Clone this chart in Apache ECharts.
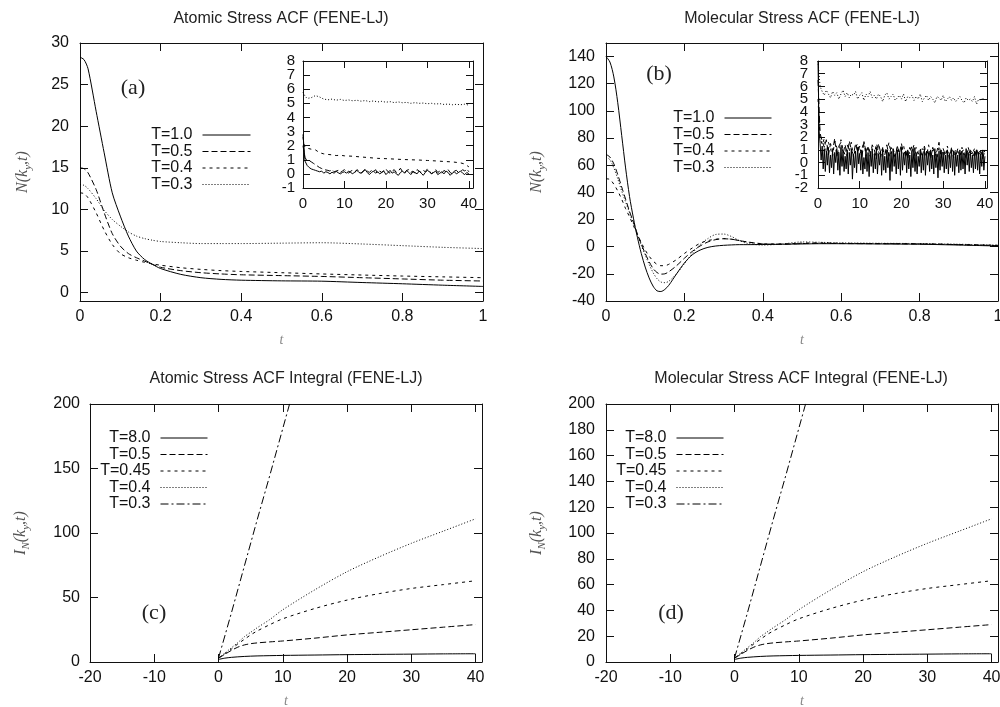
<!DOCTYPE html>
<html><head><meta charset="utf-8">
<script src="https://cdn.jsdelivr.net/npm/echarts@6/dist/echarts.min.js"></script>
<style>html,body{margin:0;padding:0;background:#fff}#c{width:1000px;height:707px}</style>
</head><body><div id="c"></div>
<script>
// ================= DATA =================
// Panel (a): Atomic stress ACF
const tA = [0,0.01,0.02,0.04,0.06,0.08,0.1,0.12,0.14,0.16,0.18,0.2,0.25,0.3,0.35,0.4,0.5,0.6,0.7,0.8,0.9,1.0];
const aT10 = [28.3,28.0,26.9,21.8,16.8,12.0,9.2,6.8,5.0,4.0,3.4,2.9,2.2,1.8,1.6,1.5,1.42,1.38,1.22,1.07,0.9,0.75];
const aT05 = [15.0,14.9,14.4,12.4,9.6,7.1,5.6,4.7,4.2,3.8,3.4,3.05,2.65,2.4,2.25,2.15,2.05,1.95,1.8,1.65,1.5,1.4];
const aT04 = [12.0,11.9,11.4,9.6,7.5,5.8,4.7,4.2,3.9,3.65,3.45,3.3,3.0,2.8,2.65,2.55,2.4,2.25,2.12,2.0,1.9,1.8];
const aT03 = [13.0,12.9,12.5,11.3,9.9,8.8,8.0,7.3,6.8,6.5,6.3,6.15,6.0,5.9,5.9,5.9,5.95,6.0,5.85,5.65,5.45,5.3];

// Inset of (a)
const tIA03 = [0,0.5,1,2,3,4,5,6,7,8,9,10,11,12,13,14,15,16,17,18,19,20,21,22,23,24,25,26,27,28,29,30,31,32,33,34,35,36,37,38,39,40];
const iaT03 = [5.8,5.5,5.35,5.4,5.55,5.45,5.3,5.25,5.3,5.22,5.28,5.2,5.24,5.18,5.22,5.15,5.2,5.12,5.17,5.1,5.14,5.08,5.12,5.05,5.1,5.04,5.07,5.0,5.05,5.0,5.02,4.97,5.0,4.95,4.98,4.92,4.95,4.9,4.93,4.9,4.94,4.87];
const tIA04 = [0,0.3,0.6,1,2,3,4,5,6,7,8,9,10,12,14,16,18,20,22,24,26,28,30,32,34,36,38,39,40];
const iaT04 = [2.6,2.0,1.85,1.8,1.75,1.7,1.5,1.42,1.38,1.35,1.3,1.32,1.28,1.25,1.2,1.15,1.1,1.08,1.05,1.02,1.0,0.98,0.95,0.92,0.88,0.85,0.78,0.7,0.5];
// sampled every 0.5 from 0 to 40
const iaT10 = [2.8,0.9,0.6,0.45,0.35,0.3,0.25,0.2,0.15,0.2,0.05,0.15,0.1,0.0,0.12,0.05,0.18,0.08,0.0,0.1,
  0.15,0.05,0.2,0.1,0.0,0.15,0.25,0.1,0.05,0.2,0.3,0.1,-0.05,0.1,0.2,0.05,0.15,0.0,0.1,0.2,
  -0.05,0.1,0.25,0.05,0.15,0.0,-0.1,0.1,0.2,0.05,0.25,0.1,-0.05,0.15,0.1,0.0,0.2,0.05,-0.1,0.1,
  0.25,0.15,0.0,0.1,0.2,-0.05,0.05,0.15,0.0,0.2,0.1,-0.1,0.05,0.15,0.0,0.1,0.2,0.05,-0.05,0.1,0.0];
const iaT05 = [2.0,1.1,1.0,0.95,0.85,0.75,0.65,0.55,0.45,0.38,0.32,0.28,0.25,0.2,0.3,0.15,0.2,0.25,0.1,0.2,
  0.3,0.15,0.05,0.2,0.25,0.1,0.3,0.2,0.05,0.15,0.35,0.2,0.1,0.25,0.15,0.3,0.05,0.2,0.1,0.25,
  0.35,0.15,0.05,0.2,0.3,0.1,0.2,0.4,0.15,0.05,0.25,0.3,0.1,0.2,0.05,0.3,0.2,0.1,0.25,0.15,
  0.35,0.2,0.0,0.15,0.3,0.1,0.2,0.05,0.25,0.15,0.3,0.1,0.0,0.2,0.25,0.1,0.15,0.3,0.2,0.35,0.15];

// Panel (b): Molecular stress ACF
const tB = [0,0.01,0.02,0.03,0.04,0.05,0.06,0.07,0.08,0.09,0.1,0.11,0.12,0.13,0.14,0.15,0.16,0.18,0.2,0.22,0.24,0.26,0.28,0.3,0.32,0.34,0.36,0.4,0.45,0.5,0.55,0.6,0.7,0.8,0.9,1.0];
const bT10 = [140,136,125,106,82,58,37,21,7,-5,-15,-23,-29,-32.5,-33,-31.5,-28.5,-20,-12,-6,-2.5,-0.5,0.5,1,1.3,1.5,1.5,1.6,1.8,2,2.2,2.2,2,1.8,1.2,0.5];
const bT05 = [68,66,61,53,44,35,26,18,9.5,2,-5,-11,-16,-19,-20.2,-20,-18.5,-14,-8.5,-3.5,0.5,3.5,5.2,5.8,5.5,4.5,3.5,2,1.8,2.3,2.5,2.3,2.2,2,1.5,0.8];
const bT04 = [50,49.5,46,41,35,28,22,15.5,9,3,-2.5,-7,-10.5,-13,-14,-14,-13,-9.5,-5,-1,2.5,4.5,5.5,6,5.5,4.5,3.5,2.2,2,2.6,2.8,2.5,2.3,2.1,1.6,1];
const bT03 = [66,64,58,50,41,33,25,17,9,1,-6,-13,-19,-23.5,-26,-26.5,-25.5,-20,-12.5,-5,1.5,6,9,9.3,7.5,4.5,2.5,1.2,2,3.5,3.2,2.8,2.5,2.3,1.8,1.2];

// Inset of (b), sampled uniformly from 0 to 40
const ibT10 = [
8.0,2.6,1.5,0.2,1.3,-0.5,1.1,-0.7,0.9,-0.2,
1.2,-0.8,0.6,-0.4,1.0,-0.9,0.8,0.0,1.1,-0.6,
0.7,-1.0,1.2,-0.3,0.9,-0.7,0.5,-0.5,1.0,-0.9,
0.8,-0.2,1.1,-1.3,0.6,-0.4,0.9,-0.8,1.2,-0.1,
0.7,-0.6,1.0,-0.9,0.4,-0.5,1.1,-0.7,0.8,-1.1,
0.9,-0.3,1.0,-0.8,0.6,-0.5,1.2,-0.9,0.7,-0.2,
0.9,-1.0,1.1,-0.6,0.5,-0.8,1.0,-0.4,0.8,-1.4,
0.9,-0.7,1.1,-0.3,0.6,-0.9,1.0,-0.5,0.8,-1.0,
1.2,-0.6,0.7,-0.2,0.9,-0.8,1.0,-0.5,0.6,-1.1,
0.9,-0.4,1.1,-0.7,0.8,-0.9,0.5,-0.3,1.0,-0.8,
0.7,-0.6,1.1,-1.0,0.9,-0.2,0.8,-0.7,1.0,-0.5,
0.6,-0.9,1.1,-0.4,0.7,-1.2,0.9,-0.6,1.0,-0.3,
0.8,-0.8,0.6,-0.5,1.0,-0.9,0.7,-0.4,1.1,-0.7,
0.9,-1.0,0.8,-0.3,0.6,-0.8,1.0,-0.6,0.9,-0.5,
0.7,-0.9,1.1,-0.2,0.8,-0.7,0.9,-0.4,0.6,-0.8,
0.9,-0.5,1.0,-0.6,0.8,-0.9,0.7,-0.3,1.0,-0.6,
0.5];
const ibT05 = [
6.5,2.3,1.7,1.2,1.8,0.6,1.5,0.9,1.9,0.4,
1.3,1.6,0.7,1.4,0.5,1.7,1.0,0.6,1.5,0.8,
1.3,0.4,1.6,0.9,1.2,0.5,1.4,1.0,0.3,1.5,
0.8,1.1,0.6,1.4,0.5,1.2,0.9,0.4,1.3,0.7,
1.5,0.6,1.0,0.3,1.2,0.8,1.4,0.5,0.9,1.1,
0.4,1.3,0.6,1.0,0.3,1.2,0.7,0.9,1.6,0.4,
1.1,0.6,1.0,0.3,1.2,0.8,0.5,1.1,0.4,0.9,
1.0,0.3,1.2,0.6,0.8,0.4,1.1,0.5,0.9,0.3,
1.0];
const ibT04 = [
5.0,2.0,1.4,1.9,0.8,1.6,1.1,0.5,1.7,1.2,
0.7,1.8,1.0,0.6,1.4,0.9,1.6,0.4,1.2,1.5,
0.7,1.0,1.7,0.5,1.3,0.8,1.1,0.6,1.5,0.9,
0.4,1.2,1.0,0.6,1.6,0.7,1.1,0.5,1.3,0.8,
0.9,1.4,0.4,1.0,0.7,1.3,0.5,1.2,0.8,0.4,
1.1,0.9,0.5,1.4,0.6,1.0,0.8,0.3,1.2,0.7,
0.9,0.5,1.3,0.6,1.0,0.4,1.1,0.8,0.5,1.2,
0.6,0.9,0.4,1.0,0.7,1.1,0.5,0.8,1.0,0.4,
0.9];
const ibT03 = [
8.0,6.0,5.6,5.3,5.7,5.4,5.1,5.6,5.3,5.5,
5.0,5.4,5.7,5.2,5.5,5.1,5.4,5.3,5.6,5.0,
5.3,5.5,4.9,5.4,5.2,5.6,5.1,5.3,5.0,5.4,
5.2,4.8,5.3,5.5,5.0,5.2,5.4,4.9,5.1,5.3,
5.0,5.4,4.8,5.2,5.1,5.3,4.9,5.2,5.0,5.4,
4.8,5.1,5.3,4.9,5.2,5.0,4.7,5.2,5.1,4.9,
5.3,4.8,5.0,5.2,4.9,5.1,4.8,5.0,5.2,4.9,
4.7,5.1,4.9,5.0,4.8,5.2,4.6,5.0,4.9,5.1,
4.9];

// Panels (c) and (d): integrals (read identical in both panels)
const tC80 = [0,1,2,4,6,10,15,20,25,30,35,40];
const cT80 = [2,3,3.6,4.3,4.7,5.1,5.4,5.7,5.9,6.1,6.3,6.4];
const tC = [0,1,2,3,4,5,6,8,10,15,20,25,30,35,40];
const cT05 = [3,6,9,11.5,13.2,14.2,14.8,15.6,16.3,18.5,21,23,25,27,29];
const cT045 = [3,6.5,10,14,17.5,21,24,29,33.5,41.5,48,53,57,60,63];
const cT04 = [3,7,11,15,19.5,23,26.5,33,40.5,56,70,81.5,92,101.5,111];
const tC03 = [0,2,4,6,8,10,12];
const cT03 = [3,38,74,110,145,181,217];

// Tick values
const xTicksAB = [0,0.2,0.4,0.6,0.8,1];
const yTicksA = [0,5,10,15,20,25,30];
const yTicksB = [-40,-20,0,20,40,60,80,100,120,140];
const xTicksCD = [-20,-10,0,10,20,30,40];
const yTicksC = [0,50,100,150,200];
const yTicksD = [0,20,40,60,80,100,120,140,160,180,200];
const xTicksIn = [0,10,20,30,40];
const yTicksInA = [-1,0,1,2,3,4,5,6,7,8];
const yTicksInB = [-2,-1,0,1,2,3,4,5,6,7,8];

// ================= CHART =================
const SANS = 'Liberation Sans', SERIF = 'Liberation Serif';
const INK = '#111';
const STY = { solid:'solid', dash:[6,3], sdash:[3,4], dot:[1,2], dashdot:[8,3,2,3] };

const GRIDS = [
  {left:80, top:43, width:403, height:258},
  {left:606, top:43, width:392, height:258},
  {left:90, top:404, width:392, height:258},
  {left:606, top:404, width:392, height:258},
  {left:303, top:61, width:170, height:127},
  {left:818, top:61, width:169, height:127}
];

function ax(gi, pos, min, max, ticks, showLabel, tickLen, margin, fs, extra) {
  return Object.assign({
    type:'value', gridIndex:gi, position:pos, min:min, max:max,
    axisLine:{show:true, onZero:false, lineStyle:{color:INK, width:1}},
    axisTick:{show:true, inside:true, length:tickLen, customValues:ticks, lineStyle:{color:INK, width:1}},
    axisLabel:{show:showLabel, customValues:ticks, margin:margin, color:INK, fontSize:fs, fontFamily:SANS},
    splitLine:{show:false}, axisPointer:{show:false}
  }, extra || {});
}
// label-only axis (used to split the tightly packed inset labels over two axes)
function labelAx(gi, min, max, vals, margin, fs) {
  return {
    type:'value', gridIndex:gi, position:'left', min:min, max:max,
    axisLine:{show:false}, axisTick:{show:false}, splitLine:{show:false}, axisPointer:{show:false},
    axisLabel:{show:true, customValues:vals, margin:margin, color:INK, fontSize:fs, fontFamily:SANS}
  };
}
const evens = a => a.filter((v,i)=>i%2===0);
const odds = a => a.filter((v,i)=>i%2===1);

const yNameStyle = {
  fontFamily:SERIF, fontStyle:'italic', fontSize:16, color:'#555',
  rich:{ a:{fontFamily:SERIF, fontStyle:'italic', fontSize:16, color:'#555', lineHeight:22},
         b:{fontFamily:SERIF, fontStyle:'italic', fontSize:11, color:'#555', lineHeight:22, verticalAlign:'bottom'} }
};
const xNameStyle = {fontFamily:SERIF, fontStyle:'italic', fontSize:14, color:'#888'};
function xName(gap){ return {name:'t', nameLocation:'middle', nameGap:gap, nameTextStyle:xNameStyle}; }
function yName(txt, gap){ return {name:txt, nameLocation:'middle', nameGap:gap, nameTextStyle:yNameStyle}; }

const xAxis = [
  ax(0,'bottom',0,1,xTicksAB,true,8,8,16,xName(32)), ax(0,'top',0,1,xTicksAB,false,8,8,16),
  ax(1,'bottom',0,1,xTicksAB,true,8,8,16,xName(32)), ax(1,'top',0,1,xTicksAB,false,8,8,16),
  ax(2,'bottom',-20,41,xTicksCD,true,8,8,16,xName(32)), ax(2,'top',-20,41,xTicksCD,false,8,8,16),
  ax(3,'bottom',-20,41,xTicksCD,true,8,8,16,xName(32)), ax(3,'top',-20,41,xTicksCD,false,8,8,16),
  ax(4,'bottom',0,41,xTicksIn,true,7,8,15), ax(4,'top',0,41,xTicksIn,false,7,8,15),
  ax(5,'bottom',0,40.5,xTicksIn,true,7,8,15), ax(5,'top',0,40.5,xTicksIn,false,7,8,15)
];
const yAxis = [
  ax(0,'left',-1,30,yTicksA,true,8,11,16,yName('{a|N(k}{b|y}{a|,t)}',46)), ax(0,'right',-1,30,yTicksA,false,8,8,16),
  ax(1,'left',-40,150,yTicksB,true,8,11,16,yName('{a|N(k}{b|y}{a|,t)}',58)), ax(1,'right',-40,150,yTicksB,false,8,8,16),
  ax(2,'left',0,200,yTicksC,true,8,10,16,yName('{a|I}{b|N}{a|(k}{b|y}{a|,t)}',58)), ax(2,'right',0,200,yTicksC,false,8,8,16),
  ax(3,'left',0,200,yTicksD,true,8,11,16,yName('{a|I}{b|N}{a|(k}{b|y}{a|,t)}',58)), ax(3,'right',0,200,yTicksD,false,8,8,16),
  ax(4,'left',-1,8,yTicksInA,false,7,8,15), ax(4,'right',-1,8,yTicksInA,false,7,8,15),
  ax(5,'left',-2,8,yTicksInB,false,7,10,15), ax(5,'right',-2,8,yTicksInB,false,7,8,15),
  labelAx(4,-1,8,evens(yTicksInA),8,15), labelAx(4,-1,8,odds(yTicksInA),8,15),
  labelAx(5,-2,8,evens(yTicksInB),10,15), labelAx(5,-2,8,odds(yTicksInB),10,15)
];

function uniformT(n, tmax){ const r=[]; for(let i=0;i<n;i++) r.push(i*tmax/(n-1)); return r; }
function line(name, gi, xs, ys, sty, smooth) {
  return {
    type:'line', name:name, xAxisIndex:gi*2, yAxisIndex:gi*2,
    data: xs.map((x,i)=>[x, ys[i]]),
    symbol:'none', showSymbol:false, smooth: smooth || false, clip:true, silent:true,
    lineStyle:{color:'#000', width:1, type:sty}, itemStyle:{color:'#000'},
    emphasis:{disabled:true}, animation:false
  };
}

const series = [
  line('a|T=1.0',0,tA,aT10,STY.solid,0.25),
  line('a|T=0.5',0,tA,aT05,STY.dash,0.25),
  line('a|T=0.4',0,tA,aT04,STY.sdash,0.25),
  line('a|T=0.3',0,tA,aT03,STY.dot,0.25),
  line('b|T=1.0',1,tB,bT10,STY.solid,0.3),
  line('b|T=0.5',1,tB,bT05,STY.dash,0.3),
  line('b|T=0.4',1,tB,bT04,STY.sdash,0.3),
  line('b|T=0.3',1,tB,bT03,STY.dot,0.3),
  line('c|T=8.0',2,tC80,cT80,STY.solid,0.3),
  line('c|T=0.5',2,tC,cT05,STY.dash,0.3),
  line('c|T=0.45',2,tC,cT045,STY.sdash,0.3),
  line('c|T=0.4',2,tC,cT04,STY.dot,0.3),
  line('c|T=0.3',2,tC03,cT03,STY.dashdot,0),
  line('d|T=8.0',3,tC80,cT80,STY.solid,0.3),
  line('d|T=0.5',3,tC,cT05,STY.dash,0.3),
  line('d|T=0.45',3,tC,cT045,STY.sdash,0.3),
  line('d|T=0.4',3,tC,cT04,STY.dot,0.3),
  line('d|T=0.3',3,tC03,cT03,STY.dashdot,0),
  line('ia|T=1.0',4,uniformT(iaT10.length,40),iaT10,STY.solid),
  line('ia|T=0.5',4,uniformT(iaT05.length,40),iaT05,STY.dash),
  line('ia|T=0.4',4,tIA04,iaT04,STY.sdash),
  line('ia|T=0.3',4,tIA03,iaT03,STY.dot),
  line('ib|T=0.3',5,uniformT(ibT03.length,40),ibT03,STY.dot),
  line('ib|T=0.4',5,uniformT(ibT04.length,40),ibT04,STY.sdash),
  line('ib|T=0.5',5,uniformT(ibT05.length,40),ibT05,STY.dash),
  line('ib|T=1.0',5,uniformT(ibT10.length,40),ibT10,STY.solid)
];

function legend(names, right, top, w) {
  return {
    data:names, orient:'vertical', align:'right', right:right, top:top, padding:0,
    itemWidth:w, itemHeight:12, itemGap:0.5, selectedMode:false,
    formatter: n => n.split('|')[1],
    itemStyle:{opacity:0},
    lineStyle:{width:1},
    textStyle:{fontSize:16, fontFamily:SANS, color:INK, padding:[0,5,0,0]}
  };
}

const graphicText = (txt, x, y, font) => ({type:'text', x:x, y:y, silent:true,
  style:{text:txt, font:font, fill:'#222', textAlign:'center', textVerticalAlign:'middle', align:'center', verticalAlign:'middle'}});

const option = {
  animation:false,
  backgroundColor:'#fff',
  grid: GRIDS.map(g => Object.assign({containLabel:false, outerBoundsMode:'none'}, g)),
  xAxis: xAxis, yAxis: yAxis, series: series,
  legend: [
    legend(['a|T=1.0','a|T=0.5','a|T=0.4','a|T=0.3'], 749, 127, 48),
    legend(['b|T=1.0','b|T=0.5','b|T=0.4','b|T=0.3'], 228, 110, 47),
    legend(['c|T=8.0','c|T=0.5','c|T=0.45','c|T=0.4','c|T=0.3'], 792, 430, 47),
    legend(['d|T=8.0','d|T=0.5','d|T=0.45','d|T=0.4','d|T=0.3'], 276, 430, 47)
  ],
  graphic: [
    graphicText('Atomic Stress ACF (FENE-LJ)', 281, 19, '16px "Liberation Sans"'),
    graphicText('Molecular Stress ACF (FENE-LJ)', 802, 19, '16px "Liberation Sans"'),
    graphicText('Atomic Stress ACF Integral (FENE-LJ)', 286, 379, '16px "Liberation Sans"'),
    graphicText('Molecular Stress ACF Integral (FENE-LJ)', 801, 379, '16px "Liberation Sans"'),
    graphicText('(a)', 133, 88, '22px "Liberation Serif"'),
    graphicText('(b)', 659, 74, '22px "Liberation Serif"'),
    graphicText('(c)', 154, 613, '22px "Liberation Serif"'),
    graphicText('(d)', 671, 613, '22px "Liberation Serif"')
  ]
};
const chart = echarts.init(document.getElementById('c'), null, {renderer:'canvas'});
chart.setOption(option);
</script></body></html>
